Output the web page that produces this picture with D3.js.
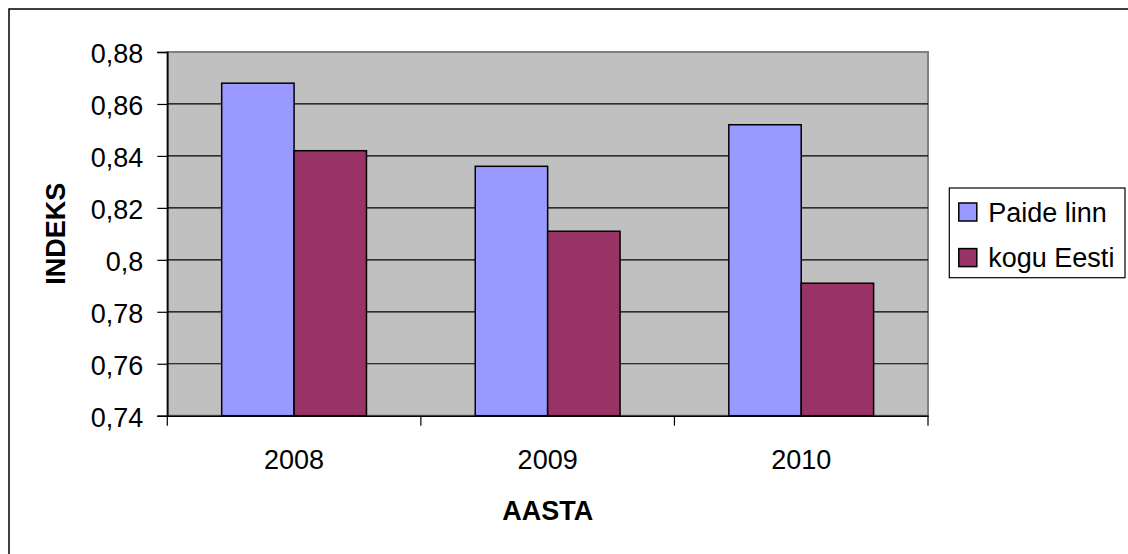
<!DOCTYPE html>
<html>
<head>
<meta charset="utf-8">
<script src="https://cdn.jsdelivr.net/npm/d3@7"></script>
<style>
  html, body { margin: 0; padding: 0; background: #fff; }
  svg text { font-family: Arial, "Liberation Sans", sans-serif; }
</style>
</head>
<body>
<svg id="chart" width="1128" height="554"></svg>
<script>
// data
var years = ["2008", "2009", "2010"];
var seriesNames = ["Paide linn", "kogu Eesti"];
var paideLinn = [0.868, 0.836, 0.852];
var koguEesti = [0.842, 0.811, 0.791];
var yTicks = [0.74, 0.76, 0.78, 0.80, 0.82, 0.84, 0.86, 0.88];
var yTickLabels = ["0,74", "0,76", "0,78", "0,8", "0,82", "0,84", "0,86", "0,88"];
var colors = ["#9999ff", "#993366"];

var svg = d3.select("#chart");
var plot = { left: 167.3, right: 928, top: 52, bottom: 415.7 };

// outer chart border (cut by the picture at right and bottom)
svg.append("rect")
  .attr("x", 9).attr("y", 9)
  .attr("width", 1140).attr("height", 570)
  .attr("fill", "#fff").attr("stroke", "#000").attr("stroke-width", 1.5);

var y = d3.scaleLinear().domain([0.74, 0.88]).range([plot.bottom, plot.top]);
var x = d3.scaleBand().domain(years).range([plot.left, plot.right]);
var gap = x.bandwidth() * 0.2145;
var xs = d3.scaleBand().domain(seriesNames).range([gap, x.bandwidth() - gap]);

// plot area background
svg.append("rect")
  .attr("x", plot.left).attr("y", plot.top)
  .attr("width", plot.right - plot.left).attr("height", plot.bottom - plot.top)
  .attr("fill", "#c0c0c0").attr("stroke", "#808080").attr("stroke-width", 2);

// gridlines
svg.append("g").selectAll("line")
  .data(yTicks.slice(1, -1))
  .join("line")
  .attr("x1", plot.left).attr("x2", plot.right)
  .attr("y1", function (d) { return y(d); }).attr("y2", function (d) { return y(d); })
  .attr("stroke", "#000").attr("stroke-width", 1.2);

// bars
var rows = years.map(function (yr, i) {
  return { year: yr, values: [paideLinn[i], koguEesti[i]] };
});
var groups = svg.append("g").selectAll("g")
  .data(rows)
  .join("g")
  .attr("transform", function (d) { return "translate(" + x(d.year) + ",0)"; });
groups.selectAll("rect")
  .data(function (d) { return d.values.map(function (v, j) { return { name: seriesNames[j], value: v, idx: j }; }); })
  .join("rect")
  .attr("x", function (d) { return xs(d.name); })
  .attr("width", xs.bandwidth())
  .attr("y", function (d) { return y(d.value); })
  .attr("height", function (d) { return y(0.74) - y(d.value); })
  .attr("fill", function (d) { return colors[d.idx]; })
  .attr("stroke", "#000").attr("stroke-width", 1.5);

// y axis
var yAxis = svg.append("g")
  .attr("transform", "translate(" + plot.left + ",0)")
  .call(d3.axisLeft(y)
    .tickValues(yTicks)
    .tickSize(10)
    .tickPadding(14)
    .tickFormat(function (d, i) { return yTickLabels[i]; }));
yAxis.select(".domain").attr("stroke", "#000").attr("stroke-width", 1.5);
yAxis.selectAll(".tick line").attr("stroke", "#000").attr("stroke-width", 1.2);
yAxis.selectAll(".tick text")
  .attr("font-size", 27).attr("fill", "#000").attr("dy", "0.39em")
  .style("font-family", "Arial, 'Liberation Sans', sans-serif");

// x axis: labels at band centres, ticks at band edges
var xAxis = svg.append("g")
  .attr("transform", "translate(0," + plot.bottom + ")")
  .call(d3.axisBottom(x).tickSize(0).tickPadding(34));
xAxis.select(".domain").attr("stroke", "#000").attr("stroke-width", 1.5);
xAxis.selectAll(".tick text")
  .attr("font-size", 27).attr("fill", "#000")
  .style("font-family", "Arial, 'Liberation Sans', sans-serif");
var edges = years.map(function (d) { return x(d); }).concat([x(years[years.length - 1]) + x.bandwidth()]);
xAxis.append("g").selectAll("line")
  .data(edges)
  .join("line")
  .attr("x1", function (d) { return d; }).attr("x2", function (d) { return d; })
  .attr("y1", 0).attr("y2", 10)
  .attr("stroke", "#000").attr("stroke-width", 1.2);

// axis titles
svg.append("text")
  .attr("x", (plot.left + plot.right) / 2).attr("y", 520)
  .attr("text-anchor", "middle")
  .attr("font-size", 27).attr("font-weight", "bold")
  .text("AASTA");
svg.append("text")
  .attr("transform", "translate(65," + (plot.top + plot.bottom) / 2 + ") rotate(-90)")
  .attr("text-anchor", "middle")
  .attr("font-size", 27).attr("font-weight", "bold")
  .text("INDEKS");

// legend
var legend = svg.append("g").attr("transform", "translate(949.3,188)");
legend.append("rect")
  .attr("width", 175.7).attr("height", 89.7)
  .attr("fill", "#fff").attr("stroke", "#000").attr("stroke-width", 1.2);
var items = legend.selectAll("g.item")
  .data(seriesNames)
  .join("g")
  .attr("class", "item")
  .attr("transform", function (d, i) { return "translate(0," + (i * 45.6) + ")"; });
items.append("rect")
  .attr("x", 9.5).attr("y", 15)
  .attr("width", 18).attr("height", 18)
  .attr("fill", function (d, i) { return colors[i]; })
  .attr("stroke", "#000").attr("stroke-width", 1.5);
items.append("text")
  .attr("x", 39).attr("y", 33.5)
  .attr("font-size", 27)
  .text(function (d) { return d; });
</script>
</body>
</html>
